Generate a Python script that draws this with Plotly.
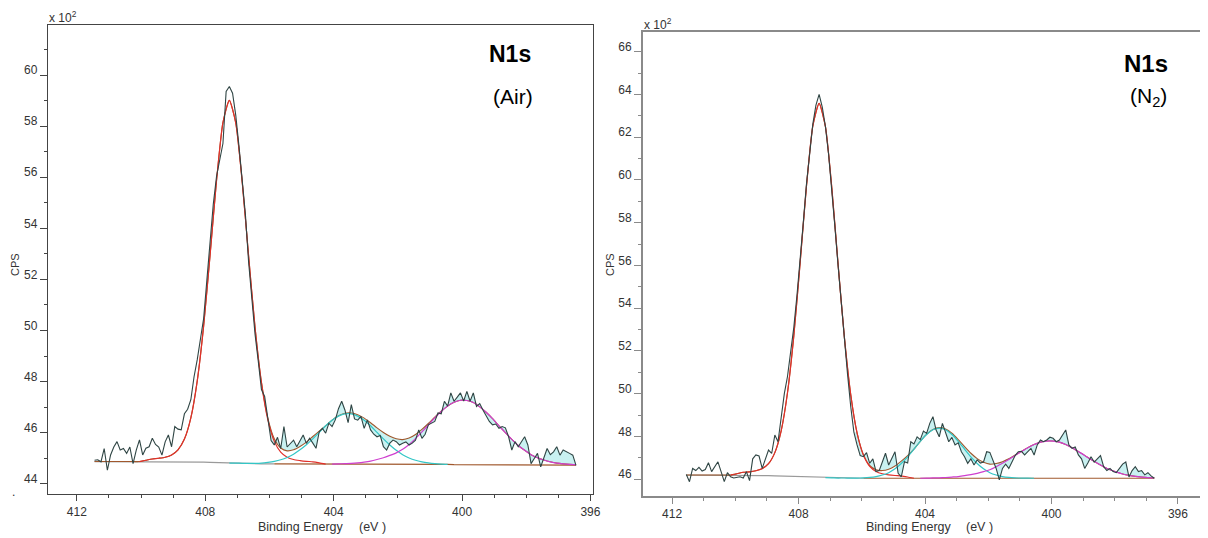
import numpy as np
import plotly.graph_objects as go

# ---------------- DATA (counts in units of 10^2 CPS) ----------------
# Air spectrum: binding energy grid 411.45 -> 396.45 eV, step 0.1 eV
air_start, air_step = 411.45, 0.1
air_counts = [
    44.92, 44.94, 44.86, 45.38, 44.53, 45.13, 45.44, 45.65, 45.32, 45.38,
    45.19, 45.44, 44.79, 45.32, 45.72, 45.13, 45.39, 45.45, 45.78, 45.54,
    45.44, 45.12, 45.64, 45.91, 45.45, 46.24, 46.14, 46.11, 46.74, 46.92,
    47.29, 48.19, 48.86, 49.61, 50.48, 51.98, 53.65, 54.95, 56.03, 56.67,
    57.32, 59.36, 59.55, 59.29, 58.42, 57.22, 55.83, 54.55, 52.68, 51.28,
    49.86, 48.81, 47.69, 47.42, 46.59, 45.69, 45.52, 45.82, 45.38, 46.24,
    45.44, 45.59, 45.71, 45.45, 45.69, 45.91, 45.58, 45.78, 45.59, 45.39,
    46.04, 46.17, 45.98, 46.37, 46.24, 46.50, 46.94, 47.23, 46.89, 46.39,
    47.10, 46.54, 46.49, 46.64, 46.17, 46.50, 46.11, 45.94, 45.84, 45.89,
    45.45, 45.32, 45.59, 45.71, 45.65, 45.52, 45.59, 45.64, 45.52, 45.59,
    45.71, 46.11, 45.78, 45.94, 46.31, 46.39, 46.44, 46.77, 46.74, 47.23,
    47.04, 47.56, 47.23, 47.39, 47.56, 47.24, 47.62, 47.23, 47.56, 47.03,
    47.14, 46.89, 46.64, 46.44, 46.31, 46.34, 46.17, 46.24, 46.19, 45.84,
    45.32, 45.65, 45.45, 45.64, 45.84, 45.52, 44.79, 44.99, 45.19, 44.66,
    44.99, 45.38, 45.14, 45.25, 45.45, 45.12, 45.32, 45.24, 45.19, 45.12,
    44.72]

# Air fit: grid 411.45 -> 396.45 eV, step 0.2 eV (76 points)
air_fit_start, air_fit_step = 411.45, 0.2
air_bg = ([44.87] * 15 + [44.86, 44.86, 44.85, 44.84, 44.83, 44.82, 44.81, 44.80, 44.79, 44.79]
          + [44.78] * 9 + [44.77] * 13 + [44.76] * 9 + [44.75, 44.75, 44.74, 44.74] + [44.73] * 16)
air_peak1 = ([0.0] * 8
             + [0.05, 0.10, 0.13, 0.17, 0.26, 0.46, 0.88, 1.72, 3.17, 5.34, 8.12, 11.03,
                13.32, 14.2, 13.32, 11.03, 8.12, 5.34, 3.17, 1.72, 0.88, 0.46,
                0.26, 0.17, 0.13, 0.10, 0.09, 0.05]
             + [0.0] * 40)
air_peak2 = ([0.0] * 22
             + [0.01, 0.01, 0.01, 0.02, 0.03, 0.06, 0.10, 0.16, 0.25, 0.38, 0.55,
                0.75, 0.99, 1.24, 1.50, 1.72, 1.88, 1.97, 1.97, 1.88, 1.72, 1.50,
                1.24, 0.99, 0.75, 0.55, 0.38, 0.25, 0.16, 0.10, 0.06, 0.03, 0.01]
             + [0.0] * 21)
air_peak3 = ([0.0] * 38
             + [0.01, 0.02, 0.03, 0.05, 0.08, 0.12, 0.18, 0.25, 0.34, 0.45,
                0.59, 0.78, 1.01, 1.27, 1.54, 1.82, 2.07, 2.28, 2.44, 2.52,
                2.52, 2.44, 2.28, 2.07, 1.82, 1.54, 1.27, 1.01, 0.77, 0.58,
                0.41, 0.29, 0.20, 0.13, 0.08, 0.05, 0.03, 0.02])

# N2 spectrum: grid 411.55 -> 396.75 eV, step 0.1 eV
n2_start, n2_step = 411.55, 0.1
n2_counts = [
    46.22, 45.88, 46.50, 46.40, 46.55, 46.38, 46.45, 46.77, 46.35, 46.60,
    46.81, 46.35, 45.88, 46.30, 46.11, 46.05, 46.08, 46.11, 46.05, 46.35,
    45.93, 46.95, 47.13, 47.08, 46.50, 46.97, 47.36, 47.20, 48.06, 47.75,
    49.00, 50.00, 50.80, 52.00, 53.10, 54.60, 56.20, 58.00, 59.80, 61.30,
    62.60, 63.50, 64.00, 63.40, 62.50, 61.20, 59.60, 57.80, 56.00, 54.20,
    52.50, 50.90, 49.40, 48.20, 47.60, 47.10, 47.05, 47.24, 46.74, 46.95,
    46.35, 46.40, 46.80, 47.21, 46.66, 46.95, 47.28, 46.27, 46.11, 46.81,
    46.75, 47.75, 47.65, 47.98, 47.85, 48.25, 48.14, 48.61, 48.92, 48.30,
    47.98, 48.61, 48.22, 47.75, 47.95, 47.60, 47.70, 47.28, 47.05, 46.74,
    46.95, 46.66, 46.90, 46.75, 46.80, 47.28, 47.25, 46.89, 46.50, 45.96,
    46.50, 46.70, 46.50, 46.80, 47.10, 47.28, 47.30, 47.13, 47.30, 47.44,
    47.13, 47.60, 47.83, 47.75, 47.83, 47.96, 47.91, 47.75, 47.83, 48.05,
    48.30, 47.60, 47.44, 47.50, 47.13, 46.95, 46.50, 46.75, 47.05, 46.80,
    46.97, 47.10, 46.58, 46.40, 46.50, 46.35, 46.30, 46.50, 46.70, 46.80,
    46.10, 46.40, 46.58, 46.35, 46.40, 46.20, 46.30, 46.15, 46.04]

# N2 fit: grid 411.55 -> 396.75 eV, step 0.2 eV (75 points)
n2_fit_start, n2_fit_step = 411.55, 0.2
n2_bg = ([46.19] * 10 + [46.18, 46.18, 46.17, 46.16, 46.15, 46.14, 46.13, 46.12, 46.11,
                         46.10, 46.09, 46.08, 46.07, 46.06, 46.05, 46.05] + [46.04] * 49)
n2_peak1 = ([0.0] * 8
            + [0.06, 0.13, 0.16, 0.21, 0.32, 0.56, 1.09, 2.12, 3.91, 6.58, 10.01, 13.60,
               16.42, 17.5, 16.42, 13.60, 10.01, 6.58, 3.91, 2.12, 1.09, 0.56,
               0.32, 0.21, 0.16, 0.13, 0.11, 0.06]
            + [0.0] * 39)
n2_peak2 = ([0.0] * 23
            + [0.001, 0.001, 0.002, 0.003, 0.007, 0.017, 0.037, 0.077, 0.15, 0.26,
               0.44, 0.69, 1.00, 1.36, 1.73, 2.05, 2.27, 2.35, 2.27, 2.05,
               1.73, 1.36, 1.00, 0.69, 0.44, 0.26, 0.15, 0.077, 0.037, 0.017,
               0.007, 0.003]
            + [0.0] * 20)
n2_peak3 = ([0.0] * 38
            + [0.007, 0.014, 0.02, 0.035, 0.056, 0.08, 0.12, 0.17, 0.23, 0.31,
               0.40, 0.54, 0.70, 0.875, 1.07, 1.25, 1.43, 1.58, 1.69, 1.74,
               1.74, 1.69, 1.58, 1.43, 1.25, 1.07, 0.875, 0.70, 0.54, 0.40,
               0.29, 0.20, 0.135, 0.088, 0.056, 0.033, 0.02])

residual_limit = 406.3   # shaded residual drawn from this binding energy down

# ---------------- STYLE ----------------
FONT = "Arial, Liberation Sans, sans-serif"
DATA_C = "#2f4544"
FILL_C = "#c9f1f1"
RED_C = "#e0302a"
CYAN_C = "#33c6c6"
MAG_C = "#cf3fcf"
BROWN_C = "#a0582d"
GRAY_C = "#9a9a9a"
OFF = 8                 # page body margin of the browser
W, H = 1208 - OFF, 538 - OFF


def px(x):
    return (x - OFF) / W


def py(y):
    return 1 - (y - OFF) / H


def grid(start, step, n):
    return np.round(start - step * np.arange(n), 3)


fig = go.Figure()


def add_panel(xa, ya, be, counts, fbe, bg, comps):
    env = [bg[k] + sum(c[k] for c in comps) for k in range(len(fbe))]
    common = dict(xaxis=xa, yaxis=ya, hoverinfo="skip", showlegend=False)
    # shaded residual between data and envelope (fit region)
    di = [k for k in range(len(be)) if be[k] <= residual_limit]
    ei = [k for k in range(len(fbe)) if fbe[k] <= residual_limit]
    fx = [be[k] for k in di] + [fbe[k] for k in ei[::-1]]
    fy = [counts[k] for k in di] + [env[k] for k in ei[::-1]]
    fig.add_trace(go.Scatter(x=fx, y=fy, mode="lines", fill="toself", fillcolor=FILL_C,
                             line=dict(width=0), **common))
    # background (gray on the high-BE side, brown afterwards)
    split = int(np.argmin(np.abs(np.array(fbe) - 405.9)))
    fig.add_trace(go.Scatter(x=fbe[:split + 1], y=bg[:split + 1], mode="lines",
                             line=dict(color=GRAY_C, width=1.2), **common))
    fig.add_trace(go.Scatter(x=fbe[split:], y=bg[split:], mode="lines",
                             line=dict(color=BROWN_C, width=1.2), **common))
    # envelope
    fig.add_trace(go.Scatter(x=fbe, y=env, mode="lines",
                             line=dict(color=BROWN_C, width=1.1, shape="spline", smoothing=0.6),
                             **common))
    # components
    for comp, col in zip(comps, [RED_C, CYAN_C, MAG_C]):
        idx = [k for k, v in enumerate(comp) if v > 0]
        lo, hi = max(idx[0] - 1, 0), min(idx[-1] + 1, len(comp) - 1)
        xs = fbe[lo:hi + 1]
        ys = [bg[k] + comp[k] for k in range(lo, hi + 1)]
        fig.add_trace(go.Scatter(x=xs, y=ys, mode="lines",
                                 line=dict(color=col, width=1.2, shape="spline", smoothing=0.6),
                                 **common))
    # raw data
    fig.add_trace(go.Scatter(x=be, y=counts, mode="lines",
                             line=dict(color=DATA_C, width=1.1), **common))


add_panel("x", "y", grid(air_start, air_step, len(air_counts)), air_counts,
          grid(air_fit_start, air_fit_step, len(air_bg)), air_bg,
          [air_peak1, air_peak2, air_peak3])
add_panel("x2", "y2", grid(n2_start, n2_step, len(n2_counts)), n2_counts,
          grid(n2_fit_start, n2_fit_step, len(n2_bg)), n2_bg,
          [n2_peak1, n2_peak2, n2_peak3])


def xaxis(domain, rng, lc, lw, anchor):
    return dict(domain=domain, range=rng, anchor=anchor, tick0=0, dtick=4,
                ticks="outside", ticklen=6, tickwidth=1, tickcolor=lc,
                minor=dict(dtick=1, tick0=0, ticks="outside", ticklen=3, tickcolor=lc, tickwidth=1),
                showline=True, linecolor=lc, linewidth=lw, mirror=True,
                showgrid=False, zeroline=False, automargin=False,
                tickfont=dict(family=FONT, size=12, color="#333333"))


def yaxis(domain, rng, lc, lw, anchor, mirror):
    return dict(domain=domain, range=rng, anchor=anchor, tick0=0, dtick=2,
                ticks="outside", ticklen=7, tickwidth=1, tickcolor=lc,
                minor=dict(dtick=1, tick0=0, ticks="outside", ticklen=3, tickcolor=lc, tickwidth=1),
                showline=True, linecolor=lc, linewidth=lw, mirror=mirror,
                showgrid=False, zeroline=False, automargin=False,
                ticklabelshift=-5,
                tickfont=dict(family=FONT, size=12, color="#333333"))


fig.update_layout(
    width=W, height=H, template="none",
    paper_bgcolor="white", plot_bgcolor="white",
    margin=dict(l=0, r=0, t=0, b=0),
    showlegend=False,
    xaxis=xaxis([px(48), px(592.7)], [412.90, 395.93], "#444444", 1.3, "y"),
    yaxis=yaxis([py(494), py(25)], [43.60, 61.96], "#444444", 1.3, "x", True),
    xaxis2=xaxis([px(643), 1.0], [412.92, 395.05], "#8a8a8a", 2, "y2"),
    yaxis2=yaxis([py(496), py(32)], [45.21, 66.92], "#8a8a8a", 2, "x2", False),
)


def ann(text, x, y, size, xanchor="center", yanchor="middle", angle=0, color="#333333"):
    fig.add_annotation(text=text, x=px(x), y=py(y), xref="paper", yref="paper",
                       showarrow=False, xanchor=xanchor, yanchor=yanchor, textangle=angle,
                       font=dict(family=FONT, size=size, color=color))


ann("x 10<sup>2</sup>", 47, 27, 12, xanchor="left", yanchor="bottom")
ann("x 10<sup>2</sup>", 642, 34, 12, xanchor="left", yanchor="bottom")
ann("CPS", 15, 265, 11, angle=-90)
ann("CPS", 610, 265, 11, angle=-90)
ann("Binding Energy", 256, 527, 12.5, xanchor="left")
ann("(eV )", 357, 527, 12.5, xanchor="left")
ann("Binding Energy", 864, 527, 12.5, xanchor="left")
ann("(eV )", 964, 527, 12.5, xanchor="left")
ann("<b>N1s</b>", 510, 54, 23, color="#000000")
ann("(Air)", 513, 97, 21, color="#000000")
ann("<b>N1s</b>", 1146, 64, 24, color="#000000")
ann("(N<sub>2</sub>)", 1148, 97, 21, color="#000000")
ann(".", 13, 492, 12)

fig.write_html("out.html")
